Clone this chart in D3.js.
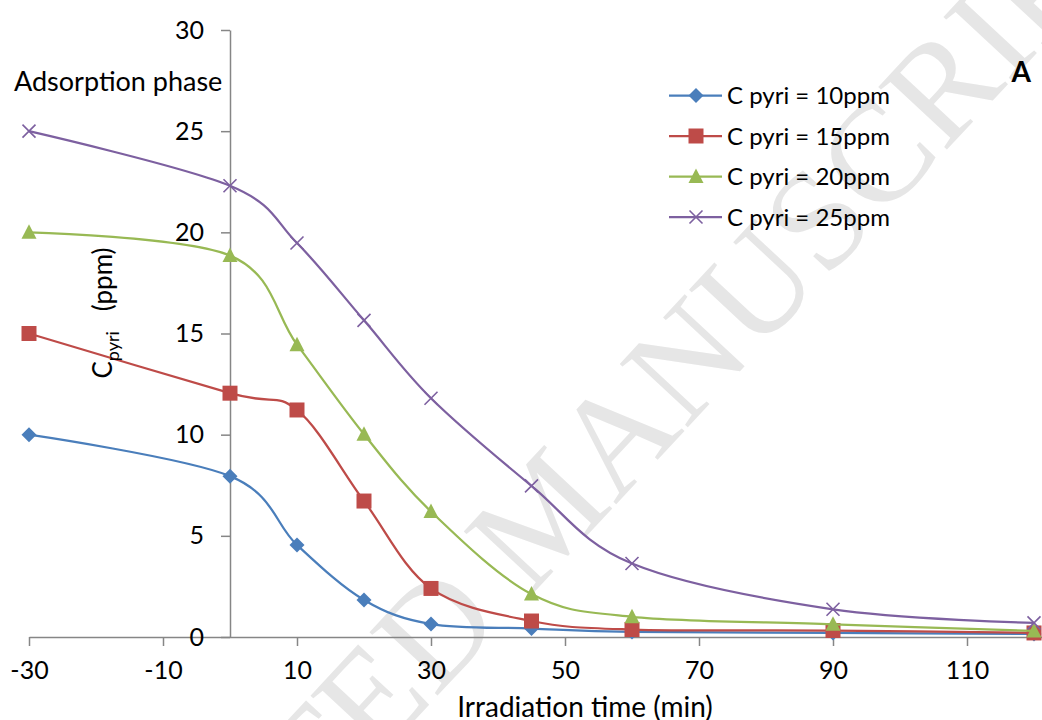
<!DOCTYPE html>
<html>
<head>
<meta charset="utf-8">
<script src="https://cdn.jsdelivr.net/npm/d3@7"></script>
<style>
  html, body { margin: 0; padding: 0; background: #fff; }
  svg { display: block; font-family: Lato, "Open Sans", sans-serif; }
</style>
</head>
<body>
<div id="chart"></div>
<script>
// Data
const times = [-30, 0, 10, 20, 30, 45, 60, 90, 120];
const c10 = [10, 7.95, 4.55, 1.83, 0.64, 0.42, 0.25, 0.2, 0.15];
const c15 = [15, 12.05, 11.22, 6.72, 2.4, 0.79, 0.37, 0.32, 0.2];
const c20 = [20, 18.85, 14.45, 10.02, 6.2, 2.12, 1.0, 0.63, 0.3];
const c25 = [25, 22.3, 19.47, 15.65, 11.8, 7.47, 3.63, 1.37, 0.7];
const seriesNames = ["C pyri = 10ppm", "C pyri = 15ppm", "C pyri = 20ppm", "C pyri = 25ppm"];
const xTicks = [-30, -10, 10, 30, 50, 70, 90, 110];
const yTicks = [0, 5, 10, 15, 20, 25, 30];

const W = 1042, H = 720;
const colors  = ["#4a7ebb", "#be4b48", "#98b954", "#7d60a0"];
const markers = ["diamond", "square", "triangle", "x"];

document.addEventListener('DOMContentLoaded', function () {
  const svg = d3.select("#chart").append("svg")
    .attr("width", W).attr("height", H);

  // Watermark
  svg.append("text")
    .attr("transform", "translate(555,522) rotate(-47)")
    .attr("text-anchor", "middle")
    .attr("dominant-baseline", "middle")
    .style("font-family", "'Liberation Serif', 'DejaVu Serif', serif")
    .style("font-size", "142px")
    .attr("fill", "#e6e6e6")
    .text("ACCEPTED MANUSCRIPT");

  // Scales (axis runs on past the right edge, up to 130)
  const x = d3.scaleLinear().domain([-30, 130]).range([29, 1101]);
  const y = d3.scaleLinear().domain([0, 30]).range([637, 30]);

  // Axes
  const xAxis = svg.append("g")
    .attr("transform", `translate(0,${y(0)})`)
    .call(d3.axisBottom(x).tickValues(xTicks).tickFormat(d => String(d))
      .tickSize(9).tickSizeOuter(0).tickPadding(15));
  const yAxis = svg.append("g")
    .attr("transform", `translate(${x(0)},0)`)
    .call(d3.axisLeft(y).tickValues(yTicks).tickFormat(d => String(d))
      .tickSize(9).tickSizeOuter(0).tickPadding(17));

  [xAxis, yAxis].forEach(g => {
    g.attr("font-family", null).attr("font-size", null);
    g.select(".domain").attr("stroke", "#868686").attr("stroke-width", 1.5);
    g.selectAll(".tick line").attr("stroke", "#868686").attr("stroke-width", 1.5);
    g.selectAll(".tick text").attr("fill", "#000").style("font-size", "25px");
  });

  // Series
  const data = [c10, c15, c20, c25];
  const line = d3.line()
    .curve(d3.curveCardinal.tension(0))
    .x((d, i) => x(times[i]))
    .y(d => y(d));

  function markerPath(type) {
    switch (type) {
      case "diamond":  return "M0,-7.5L7.5,0L0,7.5L-7.5,0Z";
      case "square":   return "M-7.5,-7.5H7.5V7.5H-7.5Z";
      case "triangle": return "M0,-8L7.5,6.5H-7.5Z";
      default:         return "M-6.5,-6.5L6.5,6.5M-6.5,6.5L6.5,-6.5";
    }
  }

  function drawMarker(g, type, color) {
    const p = g.append("path").attr("d", markerPath(type));
    if (type === "x") p.attr("fill", "none").attr("stroke", color).attr("stroke-width", 1.6);
    else p.attr("fill", color);
  }

  data.forEach((vals, s) => {
    svg.append("path")
      .datum(vals)
      .attr("d", line)
      .attr("fill", "none")
      .attr("stroke", colors[s])
      .attr("stroke-width", 2.25);

    vals.forEach((v, i) => {
      const g = svg.append("g").attr("transform", `translate(${x(times[i])},${y(v)})`);
      drawMarker(g, markers[s], colors[s]);
    });
  });

  // Legend
  const legend = svg.append("g").attr("transform", "translate(669,95.5)");
  seriesNames.forEach((name, s) => {
    const row = legend.append("g").attr("transform", `translate(0,${s * 40.5})`);
    row.append("line").attr("x1", 0).attr("x2", 53).attr("y1", 0).attr("y2", 0)
      .attr("stroke", colors[s]).attr("stroke-width", 2.25);
    const m = row.append("g").attr("transform", "translate(27,0)");
    drawMarker(m, markers[s], colors[s]);
    row.append("text").attr("x", 58).attr("y", 0).attr("dy", "0.36em")
      .style("font-size", "24px").text(name);
  });

  // Annotations
  svg.append("text").attr("x", 14).attr("y", 91)
    .style("font-size", "27px").text("Adsorption phase");

  svg.append("text").attr("x", 1031).attr("y", 82).attr("text-anchor", "end")
    .style("font-size", "28px").style("font-weight", "bold").text("A");

  // Axis titles
  const yTitle = svg.append("text")
    .attr("transform", "translate(112,313) rotate(-90)")
    .attr("text-anchor", "middle")
    .style("font-size", "26px");
  yTitle.append("tspan").text("C");
  yTitle.append("tspan").attr("dy", 7).style("font-size", "18px").text("pyri");
  yTitle.append("tspan").attr("dy", -7).text("\u00a0\u00a0 (ppm)");

  svg.append("text").attr("x", 585).attr("y", 717).attr("text-anchor", "middle")
    .style("font-size", "28px").text("Irradiation time (min)");
});
</script>
</body>
</html>
